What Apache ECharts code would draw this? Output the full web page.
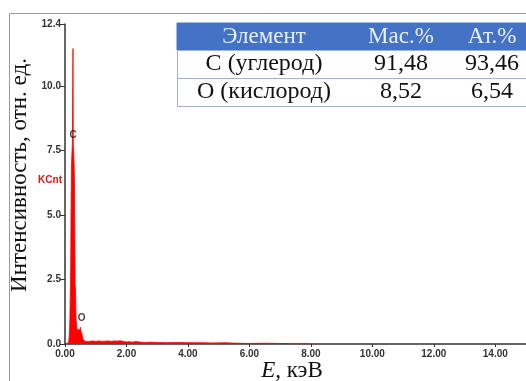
<!DOCTYPE html>
<html>
<head>
<meta charset="utf-8">
<script src="https://cdn.jsdelivr.net/npm/echarts@6/dist/echarts.min.js"></script>
<style>
html,body{margin:0;padding:0;background:#fff;}
#c{width:526px;height:381px;}
</style>
</head>
<body>
<div id="c"></div>
<script>
// Spectrum: energy (keV) and intensity (rel. units)
var energy = [0.08,0.10,0.12,0.14,0.15,0.16,0.17,0.18,0.19,0.20,0.21,0.22,0.23,0.24,0.25,0.26,0.27,0.28,0.29,0.30,0.31,0.32,0.33,0.34,0.35,0.36,0.37,0.38,0.40,0.42,0.44,0.46,0.48,0.50,0.52,0.54,0.56,0.58,0.60,0.65,0.70,0.80,0.90,1.00,1.10,1.20,1.30,1.40,1.50,1.60,1.70,1.80,1.90,2.00,2.10,2.20,2.30,2.40,2.60,2.80,3.00,3.30,3.60,4.00,4.40,4.80,5.20,5.60,6.00,6.50,7.00,7.50,8.00];
var counts = [0,0.02,0.1,0.3,0.6,1.0,1.8,2.3,3.8,5.6,6.8,7.2,7.5,7.7,7.7,11.45,7.7,7.6,7.2,6.8,6.0,4.2,2.3,2.2,1.5,1.0,0.8,0.7,0.55,0.5,0.6,0.5,0.55,0.65,0.5,0.55,0.35,0.2,0.15,0.1,0.12,0.1,0.12,0.1,0.12,0.1,0.11,0.12,0.1,0.12,0.11,0.13,0.1,0.08,0.09,0.07,0.1,0.08,0.06,0.07,0.06,0.05,0.06,0.05,0.05,0.04,0.05,0.03,0.02,0.03,0.02,0.01,0];

// Peak labels
var peakNames = ['C','O'];
var peakE = [0.26, 0.54];
var peakY = [8.1, 1.0];

// Axis ranges
var xMin = 0, xMax = 15, xStep = 2;
var yMin = 0, yMax = 12.4, yStep = 2.5;

// Table
var tableHeader = ['Элемент','Мас.%','Ат.%'];
var tableRows = [
  ['C (углерод)','91,48','93,46'],
  ['O (кислород)','8,52','6,54']
];

var yTitle = 'Интенсивность, отн. ед.';
var unitLabel = 'KCnt';

var specData = energy.map(function(e,i){return [e,counts[i]];});
var peakData = peakNames.map(function(n,i){return {value:[peakE[i],peakY[i]], name:n};});

var serif = '"Liberation Serif","Times New Roman",serif';
var sans = 'Arial, "Liberation Sans", sans-serif';
var colX = [264, 401, 492];
var rowY = [37, 64, 92];

var graphics = [];
// outer frame
graphics.push({type:'rect', z:0, shape:{x:9.5,y:13.5,width:600,height:500}, style:{fill:'none',stroke:'#9a9a9a',lineWidth:1}});
// table
graphics.push({type:'rect', z:5, shape:{x:177,y:23,width:360,height:27}, style:{fill:'#4472C4',stroke:'#4472C4'}});
graphics.push({type:'rect', z:5, shape:{x:177.5,y:50.5,width:360,height:56}, style:{fill:'#fff',stroke:'#9fb3d6',lineWidth:1}});
graphics.push({type:'line', z:6, shape:{x1:177.5,y1:78.5,x2:526,y2:78.5}, style:{stroke:'#9fb3d6',lineWidth:1}});
tableHeader.forEach(function(t,i){
  graphics.push({type:'text', z:7, x:colX[i], y:rowY[0], style:{text:t, fill:'#e8eef9', font:'23px '+serif, align:'center', verticalAlign:'middle'}});
});
tableRows.forEach(function(r,j){
  r.forEach(function(t,i){
    graphics.push({type:'text', z:7, x:colX[i], y:rowY[j+1], style:{text:t, fill:'#111', font:'24px '+serif, align:'center', verticalAlign:'middle'}});
  });
});
// y title
graphics.push({type:'text', z:7, x:20, y:175, rotation:Math.PI/2, style:{text:yTitle, fill:'#111', font:'23px '+serif, align:'center', verticalAlign:'middle'}});
// x title
graphics.push({type:'text', z:7, x:292, y:371, style:{text:'{i|E}, кэВ', fill:'#111', font:'23px '+serif, align:'center', verticalAlign:'middle', rich:{i:{fontStyle:'italic', font:'italic 23px '+serif, fill:'#111'}}}});
// unit label
graphics.push({type:'text', z:7, x:62, y:180, style:{text:unitLabel, fill:'#ee1111', font:'bold 10px '+sans, align:'right', verticalAlign:'middle'}});

var chart = echarts.init(document.getElementById('c'), null, {renderer:'canvas'});
chart.setOption({
  animation:false,
  backgroundColor:'#fff',
  grid:{left:65, right:-9, top:24, bottom:37, containLabel:false},
  xAxis:{
    type:'value', min:xMin, max:xMax, interval:xStep,
    axisLine:{lineStyle:{color:'#333', width:1.5}},
    axisTick:{length:3, lineStyle:{color:'#333'}},
    axisLabel:{showMaxLabel:false, margin:5, color:'#333', fontWeight:'bold', fontSize:10, fontFamily:sans, formatter:function(v){return v.toFixed(2);}},
    splitLine:{show:false}
  },
  yAxis:{
    type:'value', min:yMin, max:yMax, interval:yStep,
    axisLine:{show:true, lineStyle:{color:'#333', width:1.5}},
    axisTick:{show:true, length:5, lineStyle:{color:'#333'}},
    axisLabel:{margin:4, color:'#333', fontWeight:'bold', fontSize:10, fontFamily:sans, formatter:function(v){return v.toFixed(1);}},
    splitLine:{show:false}
  },
  series:[
    {type:'line', data:specData, symbol:'none', z:3,
     lineStyle:{color:'#ff0000', width:0.8},
     areaStyle:{color:'#ff0000', opacity:1}},
    {type:'scatter', data:peakData, symbolSize:0, z:4,
     label:{show:true, position:'inside', formatter:'{b}', color:'#111', fontWeight:'bold', fontSize:10, fontFamily:sans}}
  ],
  graphic:graphics
});
</script>
</body>
</html>
